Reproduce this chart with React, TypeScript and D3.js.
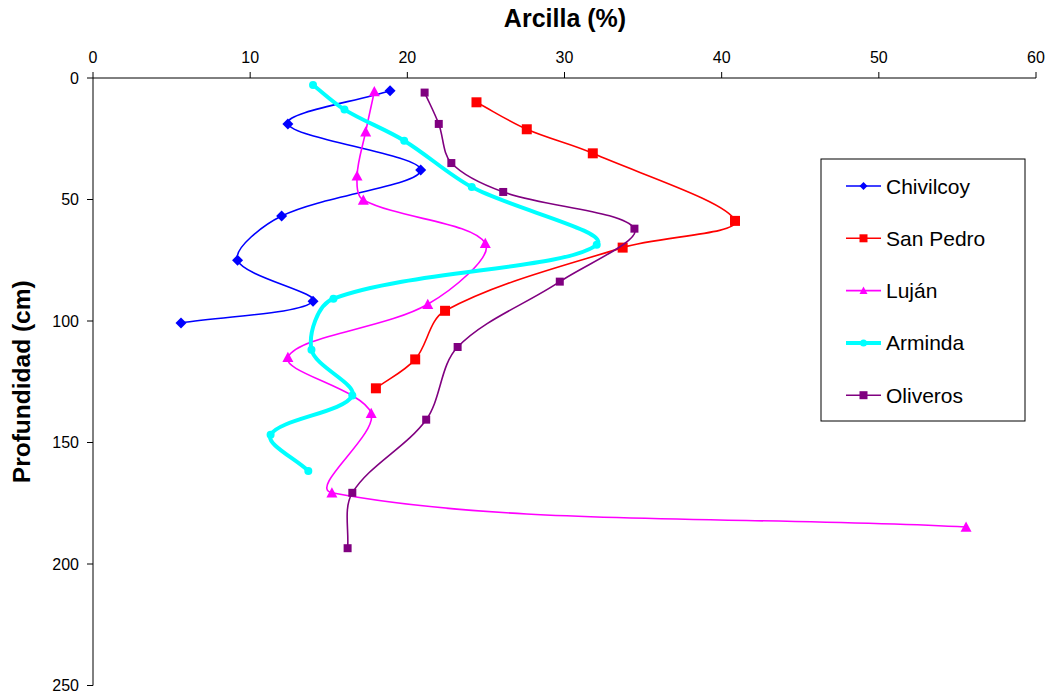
import React from "react";
import * as d3 from "d3";

// Clay content (%) by depth (cm) for each soil profile
const chivilcoyClay = [18.9, 12.4, 20.85, 12.0, 9.2, 14.0, 5.6];
const chivilcoyDepth = [5.2, 18.9, 37.9, 56.8, 75.0, 91.9, 100.8];

const sanPedroClay = [24.4, 27.6, 31.8, 40.85, 33.7, 22.4, 20.5, 18.0];
const sanPedroDepth = [10.0, 21.1, 31.0, 58.8, 69.8, 95.8, 115.8, 127.7];

const lujanClay = [17.9, 17.35, 16.8, 17.2, 24.96, 21.3, 12.4, 17.7, 15.2, 55.55];
const lujanDepth = [5.6, 22.1, 40.3, 50.2, 68.0, 93.1, 114.9, 138.0, 170.7, 184.8];

const armindaClay = [14.0, 16.0, 19.8, 24.1, 32.05, 15.3, 13.9, 16.5, 11.3, 13.7];
const armindaDepth = [2.9, 13.0, 25.8, 44.9, 68.6, 90.8, 111.8, 130.7, 146.8, 161.7];

const oliverosClay = [21.1, 22.0, 22.8, 26.1, 34.45, 29.7, 23.2, 21.2, 16.5, 16.2];
const oliverosDepth = [6.0, 18.9, 35.0, 46.9, 62.0, 83.8, 110.7, 140.6, 170.7, 193.5];

const xTicks = [0, 10, 20, 30, 40, 50, 60];
const yTicks = [0, 50, 100, 150, 200, 250];

type Marker = "diamond" | "square" | "triangle" | "circle";

const series = [
  { name: "Chivilcoy", clay: chivilcoyClay, depth: chivilcoyDepth, color: "#0000FF", marker: "diamond" as Marker, width: 1.6, size: 11 },
  { name: "San Pedro", clay: sanPedroClay, depth: sanPedroDepth, color: "#FF0000", marker: "square" as Marker, width: 1.6, size: 10 },
  { name: "Luján", clay: lujanClay, depth: lujanDepth, color: "#FF00FF", marker: "triangle" as Marker, width: 1.6, size: 11 },
  { name: "Arminda", clay: armindaClay, depth: armindaDepth, color: "#00FFFF", marker: "circle" as Marker, width: 4, size: 8 },
  { name: "Oliveros", clay: oliverosClay, depth: oliverosDepth, color: "#800080", marker: "square" as Marker, width: 1.6, size: 8 },
];

const W = 1049;
const H = 693;
const plot = { left: 93, right: 1036, top: 78, bottom: 685.5 };

const x = d3.scaleLinear().domain([0, 60]).range([plot.left, plot.right]);
const y = d3.scaleLinear().domain([0, 250]).range([plot.top, plot.bottom]);

// Smoothed line: cubic Bezier segments whose handles follow the neighbour
// chord, split in proportion to the adjacent segment lengths.
function smoothPath(pts: [number, number][]): string {
  const n = pts.length;
  if (n < 2) return "";
  const dist = (a: [number, number], b: [number, number]) => Math.hypot(b[0] - a[0], b[1] - a[1]);
  const tangent = (i: number): [number, number] => {
    const prev = pts[Math.max(0, i - 1)];
    const next = pts[Math.min(n - 1, i + 1)];
    return [next[0] - prev[0], next[1] - prev[1]];
  };
  const path = d3.path();
  path.moveTo(pts[0][0], pts[0][1]);
  for (let i = 0; i < n - 1; i++) {
    const p0 = pts[i];
    const p1 = pts[i + 1];
    const seg = dist(p0, p1);
    let c1: [number, number];
    let c2: [number, number];
    if (i === 0) {
      c1 = [p0[0] + (p1[0] - p0[0]) / 3, p0[1] + (p1[1] - p0[1]) / 3];
    } else {
      const t = tangent(i);
      const f = seg / (dist(pts[i - 1], p0) + seg) / 3;
      c1 = [p0[0] + t[0] * f, p0[1] + t[1] * f];
    }
    if (i === n - 2) {
      c2 = [p1[0] - (p1[0] - p0[0]) / 3, p1[1] - (p1[1] - p0[1]) / 3];
    } else {
      const t = tangent(i + 1);
      const f = seg / (seg + dist(p1, pts[i + 2])) / 3;
      c2 = [p1[0] - t[0] * f, p1[1] - t[1] * f];
    }
    path.bezierCurveTo(c1[0], c1[1], c2[0], c2[1], p1[0], p1[1]);
  }
  return path.toString();
}

function markerPath(kind: Marker, s: number): string {
  const h = s / 2;
  switch (kind) {
    case "diamond":
      return `M0,${-h}L${h},0L0,${h}L${-h},0Z`;
    case "square":
      return `M${-h},${-h}H${h}V${h}H${-h}Z`;
    case "triangle":
      return `M0,${-h}L${h},${h * 0.85}L${-h},${h * 0.85}Z`;
    default:
      return `M${-h},0A${h},${h} 0 1,0 ${h},0A${h},${h} 0 1,0 ${-h},0Z`;
  }
}

const font = "Arial, 'Liberation Sans', sans-serif";

export default function App() {
  const legend = { x: 821, y: 159, w: 204, h: 262, row0: 186, step: 52.3 };

  return (
    <svg width={W} height={H} style={{ position: "absolute", left: 0, top: 0, background: "#fff" }} fontFamily={font}>
      <rect width={W} height={H} fill="#fff" />
      {/* Titles */}
      <text x={565} y={27} textAnchor="middle" fontSize={25} fontWeight="bold">
        Arcilla (%)
      </text>
      <text
        transform={`translate(30,${(plot.top + plot.bottom) / 2}) rotate(-90)`}
        textAnchor="middle"
        fontSize={24.5}
        fontWeight="bold"
      >
        Profundidad (cm)
      </text>

      {/* X axis on top */}
      <line x1={plot.left} x2={plot.right} y1={plot.top} y2={plot.top} stroke="#000" strokeWidth={1} />
      {xTicks.map((t) => (
        <g key={`xt${t}`}>
          <line x1={x(t)} x2={x(t)} y1={plot.top} y2={plot.top - 6} stroke="#000" />
          <text x={x(t)} y={63} textAnchor="middle" fontSize={16}>
            {t}
          </text>
        </g>
      ))}

      {/* Y axis */}
      <line x1={plot.left} x2={plot.left} y1={plot.top} y2={plot.bottom} stroke="#000" strokeWidth={1} />
      {yTicks.map((t) => (
        <g key={`yt${t}`}>
          <line x1={plot.left - 6} x2={plot.left} y1={y(t)} y2={y(t)} stroke="#000" />
          <text x={79} y={y(t)} dy="0.36em" textAnchor="end" fontSize={16}>
            {t}
          </text>
        </g>
      ))}

      {/* Series */}
      {series.map((s) => {
        const pts = s.clay.map((c, i) => [x(c), y(s.depth[i])] as [number, number]);
        return (
          <g key={s.name}>
            <path d={smoothPath(pts)} fill="none" stroke={s.color} strokeWidth={s.width} />
            {pts.map((p, i) => (
              <path key={i} d={markerPath(s.marker, s.size)} transform={`translate(${p[0]},${p[1]})`} fill={s.color} />
            ))}
          </g>
        );
      })}

      {/* Legend */}
      <rect x={legend.x} y={legend.y} width={legend.w} height={legend.h} fill="#fff" stroke="#000" strokeWidth={1} />
      {series.map((s, i) => {
        const cy = legend.row0 + i * legend.step;
        return (
          <g key={`lg${s.name}`}>
            <line x1={846} x2={881} y1={cy} y2={cy} stroke={s.color} strokeWidth={s.width} />
            <path d={markerPath(s.marker, s.marker === "circle" ? 7 : 8)} transform={`translate(863.5,${cy})`} fill={s.color} />
            <text x={886} y={cy} dy="0.36em" fontSize={21}>
              {s.name}
            </text>
          </g>
        );
      })}
    </svg>
  );
}
